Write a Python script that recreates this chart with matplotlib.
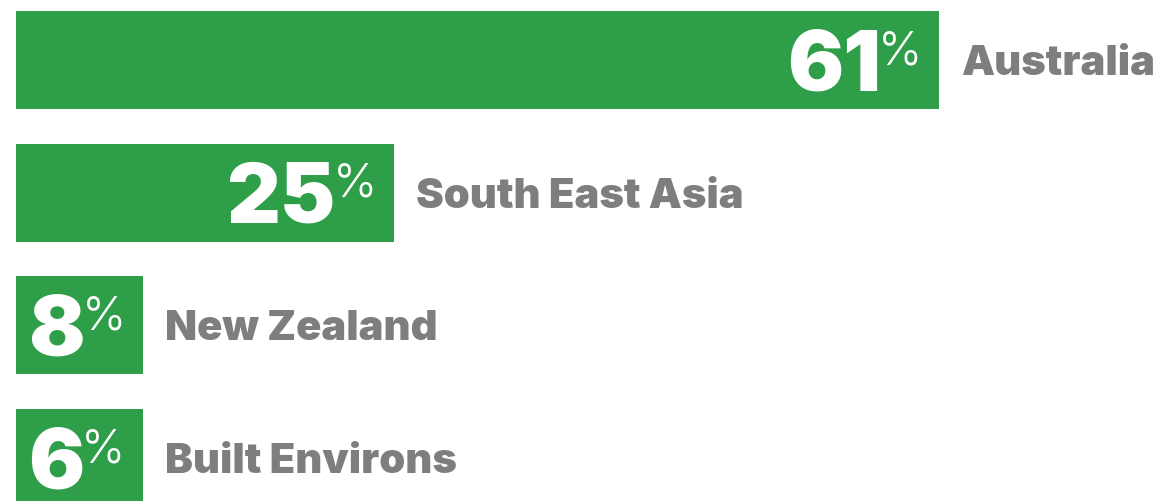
import matplotlib.pyplot as plt

# -- Datos --------------------------------------------------------------------
regions = ["Australia", "South East Asia", "New Zealand", "Built Environs"]
shares = [61, 25, 8, 6]

GREEN = "#2e9e48"
GREY = "#7c7f7e"
FAMILY = "Inter"

NUM_PT = 60
PCT_PT = 34
LAB_PT = 30
CAP = 0.727  # altura de mayusculas / em en Inter
PX = 100 / 72  # pixeles por punto

fig = plt.figure(figsize=(11.6, 5.01), dpi=100)
ax = fig.add_axes([0, 0, 1, 1])
ax.set_xlim(-1.06, 75.6)
ax.set_ylim(3.324, -0.452)
ax.axis("off")

renderer = fig.canvas.get_renderer()
px_per_unit = ax.transData.transform((1, 0))[0] - ax.transData.transform((0, 0))[0]

pad = 17
gap = -3
num_cap = NUM_PT * PX * CAP
pct_cap = PCT_PT * PX * CAP

for i, (name, val) in enumerate(zip(regions, shares)):
    # medir textos para el ancho minimo de la barra
    num = ax.text(0, i, str(val), fontsize=NUM_PT, fontfamily=FAMILY,
                  fontweight=900, color="white")
    pct = ax.text(0, i, "%", fontsize=PCT_PT, fontfamily=FAMILY,
                  fontweight=300, color="white")
    w_num = num.get_window_extent(renderer).width
    w_pct = pct.get_window_extent(renderer).width
    num.remove()
    pct.remove()

    need = (pad + 12 + w_num + gap + w_pct) / px_per_unit
    width = max(val, need)
    ax.barh(i, width, height=0.74, left=0, color=GREEN)

    ax.annotate("%", (width, i), xytext=(-pad, num_cap / 2 - pct_cap),
                textcoords="offset pixels", ha="right", va="baseline",
                fontsize=PCT_PT, fontfamily=FAMILY, fontweight=300, color="white")
    ax.annotate(str(val), (width, i), xytext=(-(pad + w_pct + gap), -num_cap / 2),
                textcoords="offset pixels", ha="right", va="baseline",
                fontsize=NUM_PT, fontfamily=FAMILY, fontweight=900, color="white")
    ax.annotate(name, (width, i), xytext=(22, -LAB_PT * PX * CAP / 2),
                textcoords="offset pixels", ha="left", va="baseline",
                fontsize=LAB_PT, fontfamily=FAMILY, fontweight=900, color=GREY)

fig.savefig("out.png", dpi=100, facecolor="white")
